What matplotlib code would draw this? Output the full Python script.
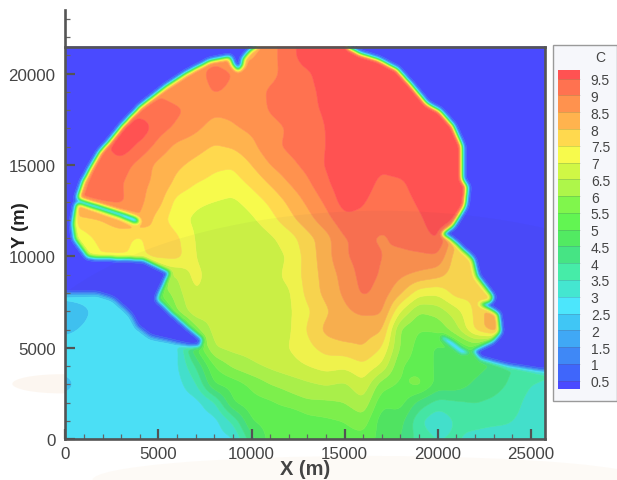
import numpy as np
import matplotlib
matplotlib.use("Agg")
import matplotlib.pyplot as plt
from matplotlib.colors import ListedColormap, BoundaryNorm
from matplotlib.path import Path
from matplotlib.patches import Rectangle, Ellipse
from matplotlib.ticker import MultipleLocator

plt.rcParams['font.family'] = ['Liberation Sans', 'DejaVu Sans']

# ---- data -----------------------------------------------------------------
x_nodes = list(range(0, 27000, 1000))
y_nodes = list(range(0, 23000, 1000))

c_y22000 = [8.8]*9 + [8.6, 8.4, 8.8, 9.3, 9.8] + [9.9]*13
c_y21000 = [8.8]*9 + [8.6, 8.4, 8.8, 9.3, 9.8] + [9.9]*13
c_y20000 = [8.8]*8 + [9.2, 9.0, 8.7, 8.8, 9.25, 9.4, 9.8] + [9.9]*12
c_y19000 = [8.9]*6 + [8.7, 8.7, 9.05, 8.9, 8.7, 9.1, 9.3, 9.35, 9.65] + [9.9]*12
c_y18000 = [9.2]*5 + [9.3, 9.1, 8.8, 8.6, 8.6, 8.7, 9.05, 9.25, 9.4, 9.55] + [9.9]*12
c_y17000 = [9.3]*3 + [9.7, 9.9, 9.2, 8.9, 8.6, 8.3, 8.45, 8.6, 8.8, 9.05, 9.3, 9.5, 9.85] + [9.9]*11
c_y16000 = [9.3]*3 + [9.85, 9.35, 8.8, 8.35, 8.2, 7.95, 8.05, 8.35, 8.85, 9.1, 9.25, 9.5, 9.85] + [9.9]*11
c_y15000 = [9.2, 9.2, 9.3, 9.25, 8.8, 8.35, 8.1, 7.85, 7.6, 7.55, 8.0, 8.5, 8.85, 9.15, 9.55, 9.85, 9.85, 9.6, 9.85] + [9.9]*8
c_y14000 = [9.0, 9.0, 9.2, 9.05, 8.6, 8.4, 7.85, 7.5, 7.35, 7.25, 7.6, 8.05, 8.5, 8.9, 9.4, 9.85, 9.75, 9.35, 9.35, 9.85] + [9.9]*7
c_y13000 = [9.0, 9.1, 9.05, 9.1, 8.6, 8.2, 7.3, 7.1, 7.0, 6.9, 7.2, 7.6, 8.1, 8.6, 9.1, 9.75, 9.55, 9.2, 9.2, 9.6] + [9.9]*7
c_y12000 = [7.5, 7.8, 8.0, 8.3, 8.5, 7.75, 7.15, 6.9, 6.7, 6.6, 6.9, 7.3, 7.8, 8.3, 8.8, 9.35, 9.35, 9.1, 9.1, 9.4, 9.8, 9.6] + [9.5]*5
c_y11000 = [7.0, 7.3, 7.7, 7.7, 7.35, 8.1, 7.6, 6.95, 6.65, 6.65, 6.6, 6.9, 7.25, 7.8, 8.3, 9.0, 9.05, 8.95, 9.1, 9.3, 9.55, 8.0, 7.8] + [7.7]*4
c_y10000 = [7.0, 7.0, 7.5, 7.5, 7.4, 7.6, 7.7, 7.0, 6.6, 6.65, 6.65, 6.75, 7.05, 7.7, 8.3, 8.95, 9.2, 9.0, 8.9, 8.9, 8.95, 7.7, 7.7] + [7.6]*4
c_y09000 = [7.0]*5 + [6.5, 6.5, 7.2, 6.65, 6.7, 6.7, 6.85, 7.1, 7.7, 8.2, 8.7, 9.2, 8.95, 8.6, 8.4, 8.2, 7.7, 7.6, 7.6] + [7.6]*3
c_y08000 = [2.7]*5 + [5.5, 6.3, 7.0, 6.7, 6.65, 6.7, 6.95, 6.9, 7.65, 8.15, 8.6, 9.1, 8.8, 8.1, 7.2, 7.1, 7.75, 7.6, 7.7] + [7.7]*3
c_y07000 = [2.2, 2.4, 2.7, 2.7, 2.7, 4.5, 6.0, 6.9, 6.7, 6.65, 6.65, 6.7, 6.9, 7.4, 7.9, 8.4, 8.6, 8.6, 7.0, 6.0, 6.2, 6.8, 7.6, 8.4] + [8.4]*3
c_y06000 = [2.4, 2.55, 2.7, 2.7, 2.7, 2.7, 4.0, 5.8, 6.7, 6.65, 6.65, 6.7, 6.9, 7.55, 8.15, 8.4, 8.2, 8.1, 5.9, 5.5, 5.6, 6.3, 7.6, 8.4] + [8.4]*3
c_y05000 = [2.7]*6 + [2.75, 5.0, 6.5, 6.65, 6.7, 6.8, 7.0, 7.35, 7.7, 7.8, 8.0, 7.5, 5.9, 5.3, 4.9, 5.0, 5.5, 4.6, 4.4, 4.0, 3.8]
c_y04000 = [2.7]*6 + [2.9, 4.0, 5.5, 6.1, 6.4, 6.6, 6.8, 7.0, 7.2, 7.1, 7.4, 6.9, 5.5, 5.3, 4.9, 4.8, 4.7, 4.4, 4.0, 3.9, 3.6]
c_y03000 = [2.3] + [2.75]*5 + [2.8, 3.4, 5.0, 5.2, 5.6, 6.0, 6.2, 6.4, 6.55, 6.4, 6.9, 5.7, 5.4, 5.7, 4.8, 4.8, 4.4, 4.2, 3.9, 3.5, 3.4]
c_y02000 = [2.75]*7 + [2.8, 3.4, 5.0, 5.3, 5.4, 5.7, 5.9, 5.9, 6.0, 6.4, 5.1, 5.2, 4.3, 3.8, 3.9, 4.0, 3.9, 3.7, 3.3, 3.2]
c_y01000 = [2.8]*9 + [3.6, 5.0, 5.2, 4.9, 5.3, 5.4, 5.5, 5.8, 4.7, 4.7, 3.6, 3.0, 3.6, 3.8, 3.7, 3.5, 3.3, 3.2]
c_y00000 = [2.8]*9 + [2.9, 4.3, 5.2, 5.1, 5.2, 5.3, 5.3, 5.3, 4.8, 4.5, 3.8, 3.5, 3.6, 3.2, 3.0, 3.3, 3.2, 3.2]

# Zones of near-zero concentration (x, y in metres)
left_zone_x = [-500, 11000, 9920, 9545, 9540, 9270, 9000, 8840, 7770, 6535, 5460, 4010, 3045, 2400, 1860, 1330,
               950, 680, 520, 415, 520, 1220, 4170, 5620, 4920, 5780, 6700, 7390, 7230, 6700, 4550, 3850, 3470,
               2560, 1700, 90, -500]
left_zone_y = [22000, 22000, 21240, 20800, 20475, 20150, 20475, 20910, 20690, 20040, 19330, 18180, 17140, 16320,
               15720, 14790, 14070, 13250, 12430, 11780, 10960, 9970, 9860, 9150, 7670, 6850, 6030, 5490, 5050,
               5050, 5600, 6140, 6850, 7670, 7950, 7950, 7950]
right_zone_x = [15130, 15130, 15820, 16730, 17810, 18670, 19420, 20120, 20820, 21300, 21300, 21570, 21460, 20820,
                20230, 20770, 21890, 22110, 22970, 22810, 22270, 22810, 23240, 23350, 22970, 21890, 22270, 23720,
                25490, 26560, 26560]
right_zone_y = [22000, 21460, 21080, 20800, 20250, 19270, 18340, 17960, 17140, 16040, 14240, 13800, 12760, 11670,
                11230, 10900, 9860, 8930, 7780, 7510, 7400, 7130, 6850, 5870, 5380, 4830, 4390, 4010, 3730, 3680,
                22000]
left_streak_x = [575, 1860, 2940, 3800, 3980, 3800, 2940, 1860, 575]
left_streak_y = [13180, 12770, 12420, 12110, 11950, 11810, 12170, 12530, 12940]
right_streak_x = [20230, 20770, 21300, 21730, 21300, 20660, 20180]
right_streak_y = [5660, 5340, 4910, 4720, 4700, 5190, 5560]
blue_value = 0.3

levels = [0.25] + [0.5 * i for i in range(1, 20)] + [9.75]
band_colors = ['#4a4aff', '#3f66fb', '#3f88f6', '#40a8f5', '#40c6f5', '#4ce6fc', '#44e6d0', '#46eca8',
               '#46e484', '#52ea62', '#62f552', '#80f64c', '#aef64a', '#d0f745', '#f7fa4c', '#ffd94e',
               '#ffb34e', '#ff924e', '#ff7250', '#ff5252']
tick_values = [0.5 * i for i in range(1, 20)]
x_major = 5000
y_major = 5000
minor_step = 1000

# ---- field construction --------------------------------------------------
rows = [c_y00000, c_y01000, c_y02000, c_y03000, c_y04000, c_y05000, c_y06000, c_y07000, c_y08000, c_y09000,
        c_y10000, c_y11000, c_y12000, c_y13000, c_y14000, c_y15000, c_y16000, c_y17000, c_y18000, c_y19000,
        c_y20000, c_y21000, c_y22000]
table = np.array(rows, dtype=float)

X_MAX, Y_TOP, Y_AXIS = 25760, 21470, 23480
step = 40.0
xf = np.arange(0, X_MAX + step, step)
yf = np.arange(0, Y_TOP + step, step)
yf[-1] = Y_TOP
xf[-1] = X_MAX


def blur(a, sigma):
    r = int(3 * sigma)
    k = np.exp(-0.5 * (np.arange(-r, r + 1) / sigma) ** 2)
    k /= k.sum()
    a = np.pad(a, r, mode='edge')
    a = np.apply_along_axis(lambda v: np.convolve(v, k, mode='same'), 0, a)
    a = np.apply_along_axis(lambda v: np.convolve(v, k, mode='same'), 1, a)
    return a[r:-r, r:-r]


tmp = np.array([np.interp(xf, x_nodes, r) for r in table])
field = np.array([np.interp(yf, y_nodes, tmp[:, j]) for j in range(tmp.shape[1])]).T
field = blur(field, 5)

XX, YY = np.meshgrid(xf, yf)
pts = np.column_stack([XX.ravel(), YY.ravel()])
mask = np.zeros(XX.shape)
for zx, zy in [(left_zone_x, left_zone_y), (right_zone_x, right_zone_y),
               (left_streak_x, left_streak_y), (right_streak_x, right_streak_y)]:
    inside = Path(np.column_stack([zx, zy])).contains_points(pts).reshape(XX.shape)
    mask = np.maximum(mask, inside.astype(float))
mask = blur(mask, 3.0)
field = field * (1 - mask) + blue_value * mask
field = np.clip(field, 0.26, 9.74)

# ---- figure ---------------------------------------------------------------
W, H = 617, 481
fig = plt.figure(figsize=(W / 100, H / 100), dpi=100, facecolor='white')
L, R, B, T = 65.3, 545.0, 440.3, 11.0
ax = fig.add_axes([L / W, 1 - B / H, (R - L) / W, (B - T) / H])
ax.patch.set_alpha(0)

# faint stains of the page behind the plot
fig.add_artist(Ellipse((0.6, 0.0), 0.9, 0.1, transform=fig.transFigure, color='#f5d9b8', alpha=0.12, lw=0, zorder=0))
fig.add_artist(Ellipse((0.1, 0.2), 0.16, 0.04, transform=fig.transFigure, color='#f0c8a0', alpha=0.15, lw=0, zorder=0))

cmap = ListedColormap(band_colors)
norm = BoundaryNorm(levels, cmap.N)
cs = ax.contourf(xf, yf, field, levels=levels, cmap=cmap, norm=norm, antialiased=True)
cs.set_edgecolor('face')
cs.set_linewidth(0.4)

shade = Ellipse((17000, 3000), 40000, 19000, facecolor='#303050', alpha=0.035, lw=0, zorder=3)
ax.add_patch(shade)
shade.set_clip_path(Rectangle((0, 0), X_MAX, Y_TOP, transform=ax.transData))

ax.set_xlim(0, X_MAX)
ax.set_ylim(0, Y_AXIS)
spine_c = '#555555'
for s in ['left', 'bottom', 'right']:
    ax.spines[s].set_color(spine_c)
    ax.spines[s].set_linewidth(1.9)
ax.spines['top'].set_visible(False)
ax.spines['right'].set_bounds(0, Y_TOP)
ax.plot([0, X_MAX], [Y_TOP, Y_TOP], color=spine_c, lw=1.9, clip_on=False, zorder=5, solid_capstyle='projecting')

ax.xaxis.set_major_locator(MultipleLocator(x_major))
ax.yaxis.set_major_locator(MultipleLocator(y_major))
ax.xaxis.set_minor_locator(MultipleLocator(minor_step))
ax.yaxis.set_minor_locator(MultipleLocator(minor_step))
ax.tick_params(which='major', direction='in', length=7, width=1.6, color=spine_c,
               labelsize=12.2, labelcolor='#444444', pad=7)
ax.tick_params(which='minor', direction='in', length=3.5, width=0.9, color='#666666')
ax.tick_params(axis='x', which='major', pad=5)

fig.text(305 / W, 1 - 470 / H, 'X (m)', fontsize=14.4, fontweight='bold', color='#444444', ha='center', va='center')
fig.text(21 / W, 1 - 225 / H, 'Y (m)', fontsize=13.2, fontweight='bold', color='#222222', rotation=90,
         ha='center', va='center')

# contour legend
fig.add_artist(Rectangle((552.7 / W, 1 - 401.7 / H), (616.5 - 552.7) / W, (401.7 - 46) / H,
                         transform=fig.transFigure, facecolor='#f6f7fb', edgecolor='#9a9a9a', lw=1.0, zorder=1))
cax = fig.add_axes([558.3 / W, 1 - 390 / H, (579.7 - 558.3) / W, (390 - 71.3) / H])
cax.set_zorder(5)
cb = fig.colorbar(cs, cax=cax, ticks=tick_values, drawedges=True, spacing='proportional')
cb.minorticks_off()
cb.dividers.set_color('#555555')
cb.dividers.set_alpha(0.25)
cb.dividers.set_linewidth(0.6)
cb.outline.set_visible(False)
cax.set_yticklabels(['%g' % v for v in tick_values])
cax.tick_params(which='both', length=0, labelsize=10, labelcolor='#444444', pad=8)
fig.text(600 / W, 1 - 58 / H, 'C', fontsize=10, color='#444444', ha='center', va='center', zorder=6)

fig.savefig('out.png', dpi=100)
